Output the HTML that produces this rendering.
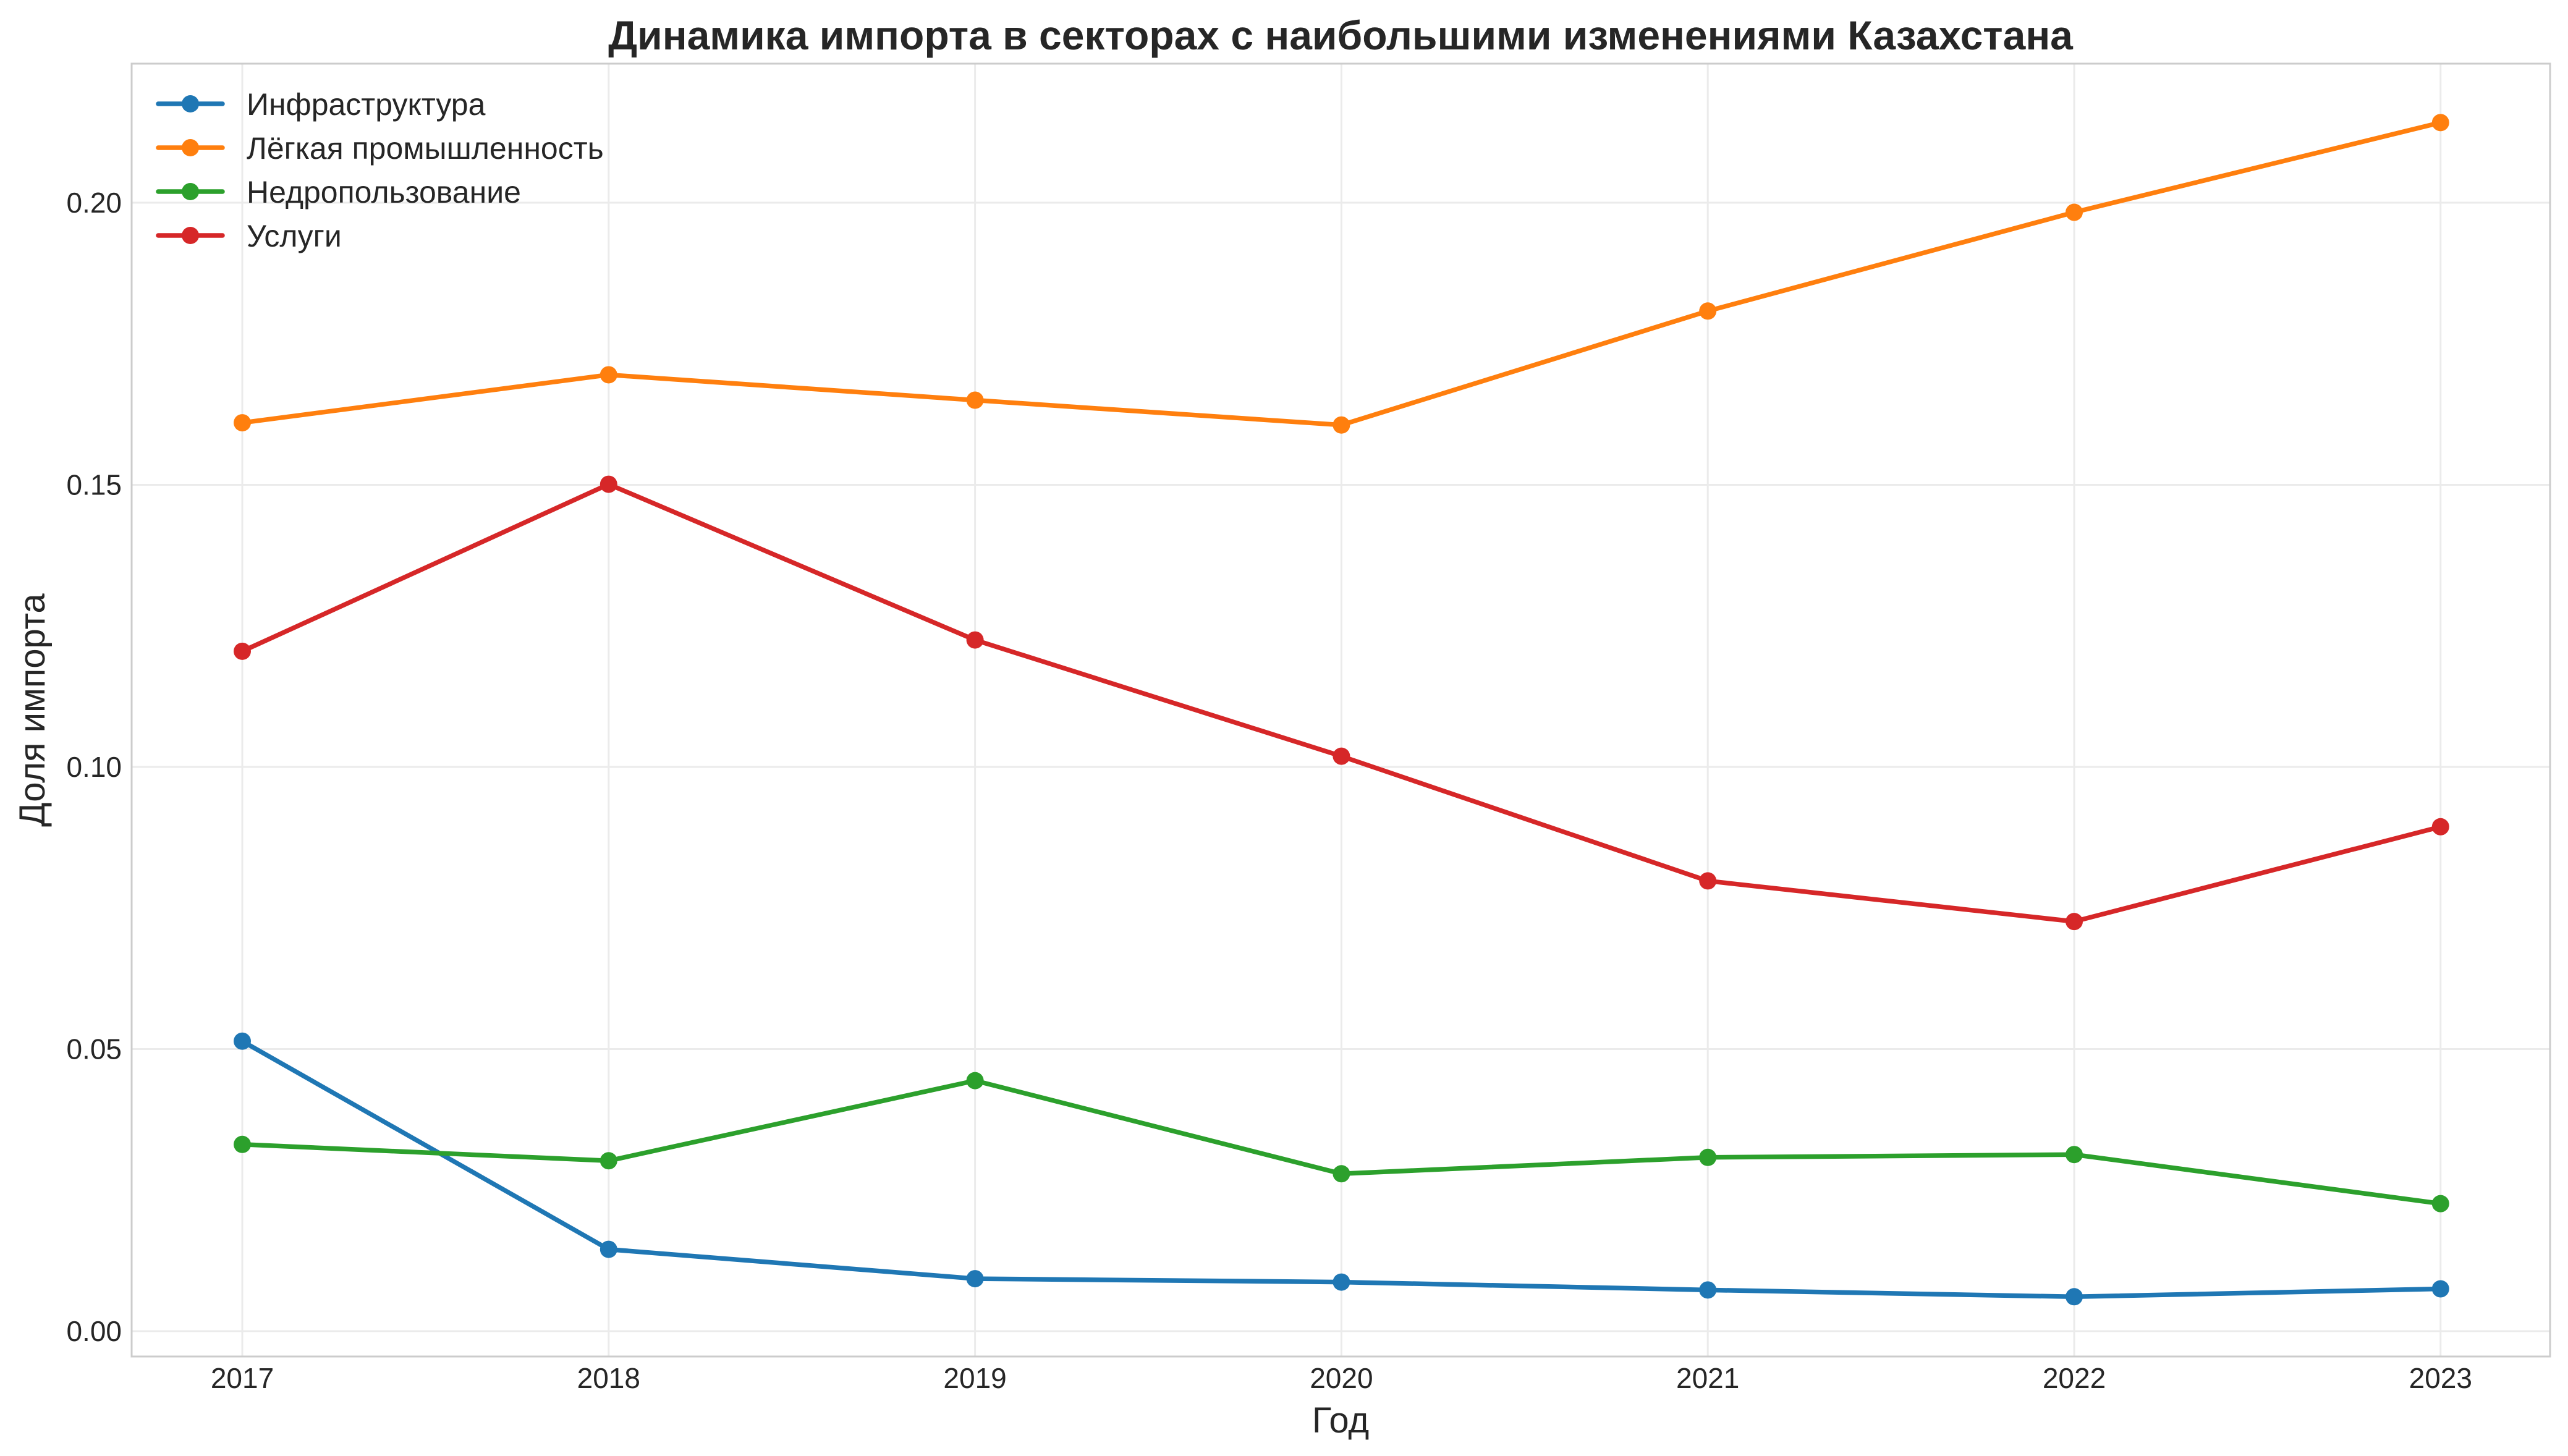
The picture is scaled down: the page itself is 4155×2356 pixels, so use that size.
<!DOCTYPE html>
<html><head><meta charset="utf-8"><style>
html,body{margin:0;padding:0;background:#fff;}
svg{display:block;font-family:"Liberation Sans",sans-serif;}
</style></head><body>
<svg id="chart" width="4155" height="2356" viewBox="0 0 4155 2356" xmlns="http://www.w3.org/2000/svg">
<rect x="0" y="0" width="4155" height="2356" fill="#fff"/>
<g id="grid"></g>
<rect x="213" y="103" width="3913" height="2092" fill="none" stroke="#cccccc" stroke-width="3"/>
<g id="ticks"></g>
<g id="series"></g>
<text x="2169" y="80" text-anchor="middle" font-size="66" font-weight="bold" fill="#262626">Динамика импорта в секторах с наибольшими изменениями Казахстана</text>
<text x="2169" y="2318" text-anchor="middle" font-size="58" fill="#262626">Год</text>
<text x="0" y="0" transform="translate(72,1149) rotate(-90)" text-anchor="middle" font-size="58" fill="#262626">Доля импорта</text>
<g id="legend"></g>
</svg>
<script>
const years = [2017, 2018, 2019, 2020, 2021, 2022, 2023];
const infra = [0.0514, 0.0145, 0.0093, 0.0087, 0.0073, 0.0061, 0.0075];
const light = [0.1610, 0.1695, 0.1650, 0.1606, 0.1808, 0.1983, 0.2142];
const mining = [0.0331, 0.0302, 0.0444, 0.0279, 0.0308, 0.0313, 0.0226];
const services = [0.1205, 0.1501, 0.1225, 0.1019, 0.0798, 0.0726, 0.0894];
const seriesNames = ["Инфраструктура", "Лёгкая промышленность", "Недропользование", "Услуги"];
const yTicks = [0, 0.05, 0.10, 0.15, 0.20];
const yTickLabels = ["0.00", "0.05", "0.10", "0.15", "0.20"];

const NS = "http://www.w3.org/2000/svg";
const colors = ["#1f77b4", "#ff7f0e", "#2ca02c", "#d62728"];
const allSeries = [infra, light, mining, services];
const xScale = y => 392 + (y - 2017) * 592.8;
const yScale = v => 2154 - v * 9130;
function mk(tag, attrs, parent) {
  const el = document.createElementNS(NS, tag);
  for (const k in attrs) el.setAttribute(k, attrs[k]);
  parent.appendChild(el);
  return el;
}
const grid = document.getElementById('grid');
const ticks = document.getElementById('ticks');
years.forEach(yr => {
  const x = xScale(yr);
  const g = mk('line', {x1: x, x2: x, y1: 103, y2: 2195, stroke: '#ebebeb', 'stroke-width': 3}, grid);
  
  
  const t = mk('text', {x: x, y: 2246, 'text-anchor': 'middle', 'font-size': 46, fill: '#262626'}, ticks);
  t.textContent = yr;
  
  
});
yTicks.forEach((v, i) => {
  const y = yScale(v);
  const g = mk('line', {x1: 213, x2: 4126, y1: y, y2: y, stroke: '#ebebeb', 'stroke-width': 3}, grid);
  
  
  const t = mk('text', {x: 197, y: y + 16, 'text-anchor': 'end', 'font-size': 46, fill: '#262626'}, ticks);
  t.textContent = yTickLabels[i];
  
  
});
const sg = document.getElementById('series');
allSeries.forEach((vals, si) => {
  const pts = vals.map((v, i) => xScale(years[i]) + ',' + yScale(v)).join(' ');
  const pl = mk('polyline', {points: pts, fill: 'none', stroke: colors[si], 'stroke-width': 7.5, 'stroke-linejoin': 'round', 'stroke-linecap': 'round'}, sg);
  
  
  vals.forEach((v, i) => {
    const c = mk('circle', {cx: xScale(years[i]), cy: yScale(v), r: 14, fill: colors[si]}, sg);
    
    
  });
});
const lg = document.getElementById('legend');
seriesNames.forEach((n, i) => {
  const y = 168 + i * 71;
  const l = mk('line', {x1: 256, x2: 360, y1: y, y2: y, stroke: colors[i], 'stroke-width': 7.5, 'stroke-linecap': 'round'}, lg);
  
  
  const c = mk('circle', {cx: 308, cy: y, r: 14, fill: colors[i]}, lg);
  
  
  const t = mk('text', {x: 399, y: y + 18, 'font-size': 50, fill: '#262626'}, lg);
  t.textContent = n;
  
  
});
</script>
</body></html>
